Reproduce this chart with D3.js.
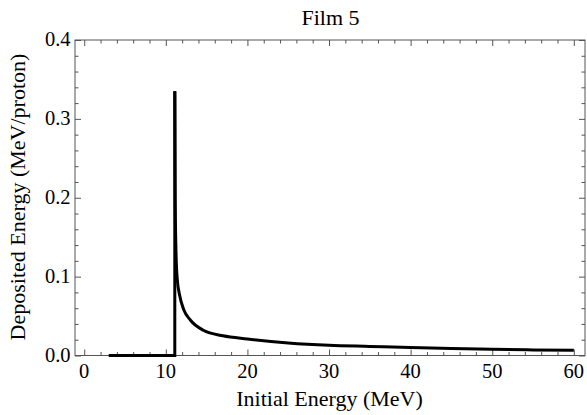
<!DOCTYPE html>
<html><head><meta charset="utf-8">
<script src="https://cdn.jsdelivr.net/npm/d3@7"></script>
<style>body{margin:0;background:#fff}svg{display:block}</style>
</head><body>
<svg id="c" width="587" height="415"></svg>
<script>
const title = "Film 5";
const xLabel = "Initial Energy (MeV)";
const yLabel = "Deposited Energy (MeV/proton)";
const xTicks = [0,10,20,30,40,50,60];
const yTicks = [0.0,0.1,0.2,0.3,0.4];
// flat part and threshold jump
const stepE = [3, 11.1, 11.1];
const stepD = [0, 0, 0.335];
// decay after peak
const decayE = [11.1, 11.15, 11.25, 11.4, 11.7, 12.2, 13, 14.6, 17, 20, 25, 30, 35, 40, 45, 50, 55, 60];
const decayD = [0.335, 0.2, 0.13, 0.097, 0.076, 0.058, 0.045, 0.032, 0.025, 0.021, 0.016, 0.013, 0.0115, 0.0100, 0.0088, 0.0078, 0.0071, 0.0065];

const svg = d3.select("#c");
const L=75, R=585, T=40, B=355.5;
const x = d3.scaleLinear().domain([-1.13, 61.37]).range([L, R]);
const y = d3.scaleLinear().domain([0, 0.4]).range([B, T]);
const font = "'Liberation Serif','Times New Roman','DejaVu Serif',serif";
const frameCol = "#555";

// frame
svg.append("rect").attr("x",L).attr("y",T).attr("width",R-L).attr("height",B-T)
  .attr("fill","none").attr("stroke",frameCol).attr("stroke-width",1);

const xMinor = d3.range(0, 61, 2).filter(v => v % 10 !== 0);
const yMinor = d3.range(0, 0.401, 0.02).filter((v,i) => i % 5 !== 0);

function ticks(axisGen, tr, vals, size){
  const g = svg.append("g").attr("transform", tr)
    .call(axisGen.tickValues(vals).tickSize(size).tickFormat(""));
  g.select(".domain").remove();
  g.selectAll("line").attr("stroke", frameCol);
  return g;
}
// inward ticks on all four sides
ticks(d3.axisTop(x), `translate(0,${B})`, xTicks, 6);
ticks(d3.axisTop(x), `translate(0,${B})`, xMinor, 3.5);
ticks(d3.axisBottom(x), `translate(0,${T})`, xTicks, 6);
ticks(d3.axisBottom(x), `translate(0,${T})`, xMinor, 3.5);
ticks(d3.axisRight(y), `translate(${L},0)`, yTicks, 6);
ticks(d3.axisRight(y), `translate(${L},0)`, yMinor, 3.5);
ticks(d3.axisLeft(y), `translate(${R},0)`, yTicks, 6);
ticks(d3.axisLeft(y), `translate(${R},0)`, yMinor, 3.5);

// tick labels
svg.append("g").selectAll("text").data(xTicks).join("text")
  .attr("x", d => x(d)).attr("y", 378).attr("text-anchor","middle")
  .attr("font-family", font).attr("font-size", 20.5).text(d => d);
svg.append("g").selectAll("text").data(yTicks).join("text")
  .attr("x", L - 4.5).attr("y", d => y(d) + 6).attr("text-anchor","end")
  .attr("font-family", font).attr("font-size", 20.5).text(d => d.toFixed(1));

// labels
svg.append("text").attr("x", 330.5).attr("y", 25).attr("text-anchor","middle")
  .attr("font-family", font).attr("font-size", 22).text(title);
svg.append("text").attr("x", 329.5).attr("y", 406).attr("text-anchor","middle")
  .attr("font-family", font).attr("font-size", 22).text(xLabel);
svg.append("text").attr("transform", `translate(25,197) rotate(-90)`).attr("text-anchor","middle")
  .attr("font-family", font).attr("font-size", 22).text(yLabel);

// data
const stepPts = stepE.map((e,i)=>[e, stepD[i]]);
const decayPts = decayE.map((e,i)=>[e, decayD[i]]);
svg.append("path").attr("d", d3.line().x(d=>x(d[0])).y(d=>y(d[1]))(stepPts))
  .attr("fill","none").attr("stroke","#000").attr("stroke-width",3);
svg.append("path").attr("d", d3.line().x(d=>x(d[0])).y(d=>y(d[1])).curve(d3.curveMonotoneX)(decayPts))
  .attr("fill","none").attr("stroke","#000").attr("stroke-width",3);
</script>
</body></html>
